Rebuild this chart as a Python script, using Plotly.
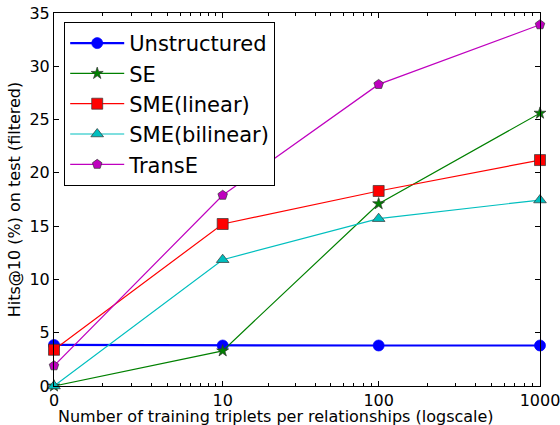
import numpy as np
import plotly.graph_objects as go

n_triplets = [0, 10, 100, 1000]
x_tick_labels = ["0", "10", "100", "1000"]

unstructured = [3.85, 3.8, 3.8, 3.8]
se = [0.0, 3.3, 17.1, 25.6]
sme_linear = [3.4, 15.2, 18.3, 21.2]
sme_bilinear = [0.0, 11.85, 15.7, 17.45]
transe = [1.9, 17.9, 28.3, 33.9]

series = [
    ("Unstructured", unstructured, "#0000ff", "circle", 11, 2.2),
    ("SE", se, "#008000", "star", 9, 1.2),
    ("SME(linear)", sme_linear, "#ff0000", "square", 11, 1.2),
    ("SME(bilinear)", sme_bilinear, "#00bfbf", "triangle-up", 11, 1.2),
    ("TransE", transe, "#bf00bf", "pentagon", 10, 1.2),
]

def xf(v):
    return np.log10(np.asarray(v, dtype=float) + 1)

fig = go.Figure()
for name, vals, col, sym, size, lw in series:
    fig.add_trace(go.Scatter(
        x=xf(n_triplets), y=vals, name=name, mode="lines+markers",
        legendgroup=name,
        line=dict(color=col, width=lw),
        marker=dict(symbol=sym, size=size, color=col,
                    line=dict(color="#333333" if name != "Unstructured" else col, width=0.7)),
        cliponaxis=False,
    ))

minor_vals = [v for d in (1, 10, 100) for v in range(d, 10 * d, d) if v not in n_triplets]
x_max = float(xf(max(n_triplets)))

font = "DejaVu Sans"
fig.update_layout(
    width=560, height=425,
    margin=dict(l=54, r=20, t=13, b=39),
    plot_bgcolor="white", paper_bgcolor="white",
    font=dict(family=font, size=16, color="black"),
    showlegend=True,
    legend=dict(x=0.021, y=0.976, xanchor="left", yanchor="top",
                bordercolor="black", borderwidth=1, bgcolor="white",
                font=dict(size=21), itemwidth=54, tracegroupgap=0),
    xaxis=dict(
        range=[0, x_max], tickmode="array",
        tickvals=list(xf(n_triplets)), ticktext=x_tick_labels,
        ticks="inside", ticklen=5, tickcolor="black",
        showline=True, linecolor="black", linewidth=1, mirror="allticks",
        showgrid=False, zeroline=False, automargin=False,
        ticklabeloverflow="allow", ticklabelstandoff=0,
        minor=dict(tickvals=list(xf(minor_vals)), ticks="inside", ticklen=3, tickcolor="black", showgrid=False),
        tickfont=dict(size=16),
    ),
    yaxis=dict(
        range=[0, 35], tickmode="array", tickvals=list(range(0, 36, 5)),
        ticks="inside", ticklen=5, tickcolor="black",
        showline=True, linecolor="black", linewidth=1, mirror="allticks",
        showgrid=False, zeroline=False, automargin=False,
        title=dict(text="Hits@10 (%) on test (filtered)", standoff=4, font=dict(size=16)),
        tickfont=dict(size=16),
    ),
    annotations=[dict(
        text="Number of training triplets per relationships (logscale)",
        xref="paper", yref="paper", x=0.5, y=0, xanchor="center", yanchor="middle",
        yshift=-30, xshift=-21, showarrow=False, font=dict(size=16),
    )],
)

fig.write_html("out.html", config={"displayModeBar": False},
               post_script="document.body.style.margin='0';document.body.style.overflow='hidden';")
